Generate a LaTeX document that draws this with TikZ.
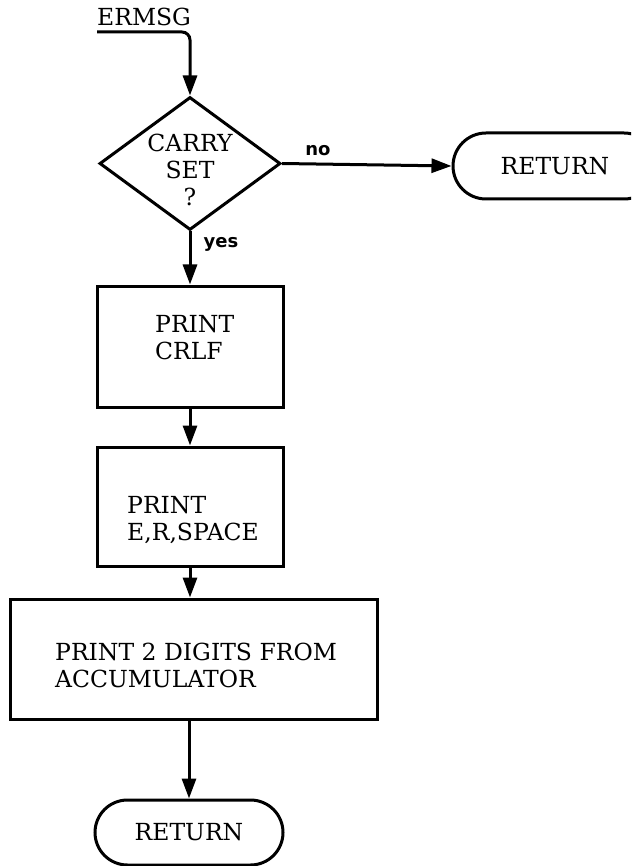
\documentclass[tikz,border=0pt]{standalone}
\usepackage{fontspec}
\setmainfont{DejaVu Serif}
\newfontfamily\lblfont{DejaVu Sans}
\usetikzlibrary{shapes.geometric,shapes.misc,arrows.meta}
\tikzset{
  flow/.style={line width=3pt,-{Triangle[length=20pt,width=14pt]}},
  boxnode/.style={draw,line width=3pt,rectangle,inner sep=0pt},
  decnode/.style={draw,line width=3pt,diamond,inner sep=0pt,minimum width=181pt,minimum height=133pt},
  termnode/.style={draw,line width=3pt,rounded rectangle,inner sep=0pt,font=\fontsize{23.5}{27}\selectfont},
  txt/.style={inner sep=0pt,align=left,font=\fontsize{23.5}{27}\selectfont},
  lbl/.style={inner sep=0pt,font=\lblfont\bfseries\fontsize{18}{20}\selectfont}
}
\begin{document}
\begin{tikzpicture}[x=1pt,y=-1pt]
\useasboundingbox (0,0) rectangle (631,866);
\clip (0,0) rectangle (631,866);
% start label
\node[txt,anchor=base west] (ermsg) at (97,26) {ERMSG};
\coordinate (start) at (97,32);
% decision
\node[decnode] (dec) at (190,163.5) {};
\node[txt,align=center] (dectext) at (190,170) {CARRY\\SET\\?};
% terminals
\node[termnode,minimum width=204pt,minimum height=66pt] (ret1) at (555,166) {RETURN};
\node[termnode,minimum width=188pt,minimum height=65pt] (ret2) at (189,832.5) {RETURN};
% process boxes
\node[boxnode,minimum width=186pt,minimum height=121pt] (b1) at (190,346.5) {};
\node[txt] (b1t) at (155,337.5) [anchor=west] {PRINT\\CRLF};
\node[boxnode,minimum width=186pt,minimum height=119pt] (b2) at (190,506.5) {};
\node[txt] (b2t) at (127,520) [anchor=west] {PRINT\\E,R,SPACE};
\node[boxnode,minimum width=367pt,minimum height=120pt] (b3) at (193.5,659) {};
\node[txt] (b3t) at (55,665) [anchor=west] {PRINT 2 DIGITS FROM\\ACCUMULATOR};
% connectors
\draw[flow,rounded corners=8pt] (start) -| (dec.north);
\draw[flow] (dec.east) -- (ret1.west);
\draw[flow] (dec.south) -- (b1.north);
\draw[flow] (b1.south) -- (b2.north);
\draw[flow] (b2.south) -- (b2.south |- b3.north);
\draw[flow] (b3.south -| ret2.north) -- (ret2.north);
% branch labels
\node[lbl] (no) at (318,151) {no};
\node[lbl] (yes) at (221,244) {yes};
\end{tikzpicture}
\end{document}
